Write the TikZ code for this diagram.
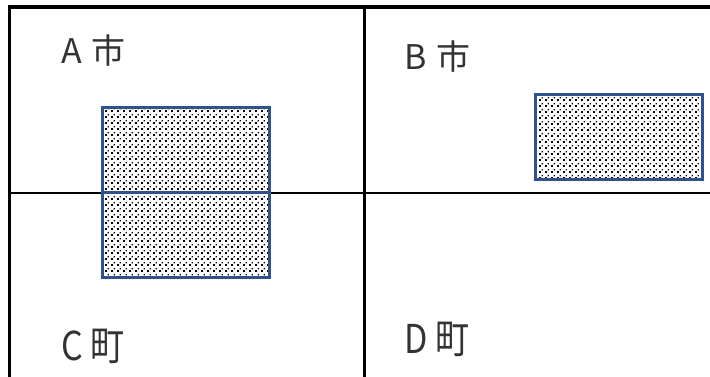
\documentclass[tikz,border=0pt]{standalone}
\usepackage{fontspec}
\setmainfont{Noto Sans CJK JP}
\usetikzlibrary{patterns.meta}
\definecolor{boxblue}{HTML}{2F528F}
\definecolor{txt}{HTML}{333333}
\tikzdeclarepattern{
  name=officedots,
  type=uncolored,
  bounding box={(0pt,0pt) and (5.5pt,5.5pt)},
  tile size={(5.5pt,5.5pt)},
  code={
    \fill (0pt,0pt) rectangle (2pt,2pt);
    \fill (2.75pt,2.9pt) rectangle (4.1pt,4.1pt);
  }
}
\tikzset{
  grid/.style={line width=2.6pt, black},
  dotbox/.style={draw=boxblue, line width=2.4pt, pattern=officedots, pattern color=black, inner sep=0pt},
  label/.style={text=txt, font=\fontsize{34pt}{36pt}\selectfont, anchor=base west, inner sep=0pt},
  tall/.style={yscale=1.17, transform shape}
}
\begin{document}
\begin{tikzpicture}[x=1pt,y=-1pt]
\useasboundingbox (0,0) rectangle (710,377);
\fill[white] (0,0) rectangle (710,377);
% grid coordinates
\coordinate (tl) at (8,7);
\coordinate (tr) at (710,7);
\coordinate (lt) at (9.5,5);
\coordinate (lb) at (9.5,377);
\coordinate (vt) at (364.5,7);
\coordinate (vb) at (364.5,377);
\coordinate (hl) at (9.5,193);
\coordinate (hr) at (710,193);
\draw[grid, line width=4pt] (tl) -- (tr);
\draw[grid, line width=3pt] (lt) -- (lb);
\draw[grid] (vt) -- (vb);
\draw[grid] (hl) -- (hr);
% dotted boxes
\node[dotbox, minimum width=167pt, minimum height=85pt] (atop) at (186,150) {};
\node[dotbox, minimum width=167pt, minimum height=85pt] (cbot) at (186,235) {};
\node[dotbox, minimum width=167pt, minimum height=85pt] (bbox) at (619,137) {};
% labels
\node[label] (la) at (61,64) {A\hspace{10pt}市};
\node[label] (lb2) at (404,70) {B\hspace{10pt}市};
\node[label, tall] (lc) at (61,360) {C\hspace{8pt}町};
\node[label, tall] (ld) at (404,353) {D\hspace{8pt}町};
\end{tikzpicture}
\end{document}
